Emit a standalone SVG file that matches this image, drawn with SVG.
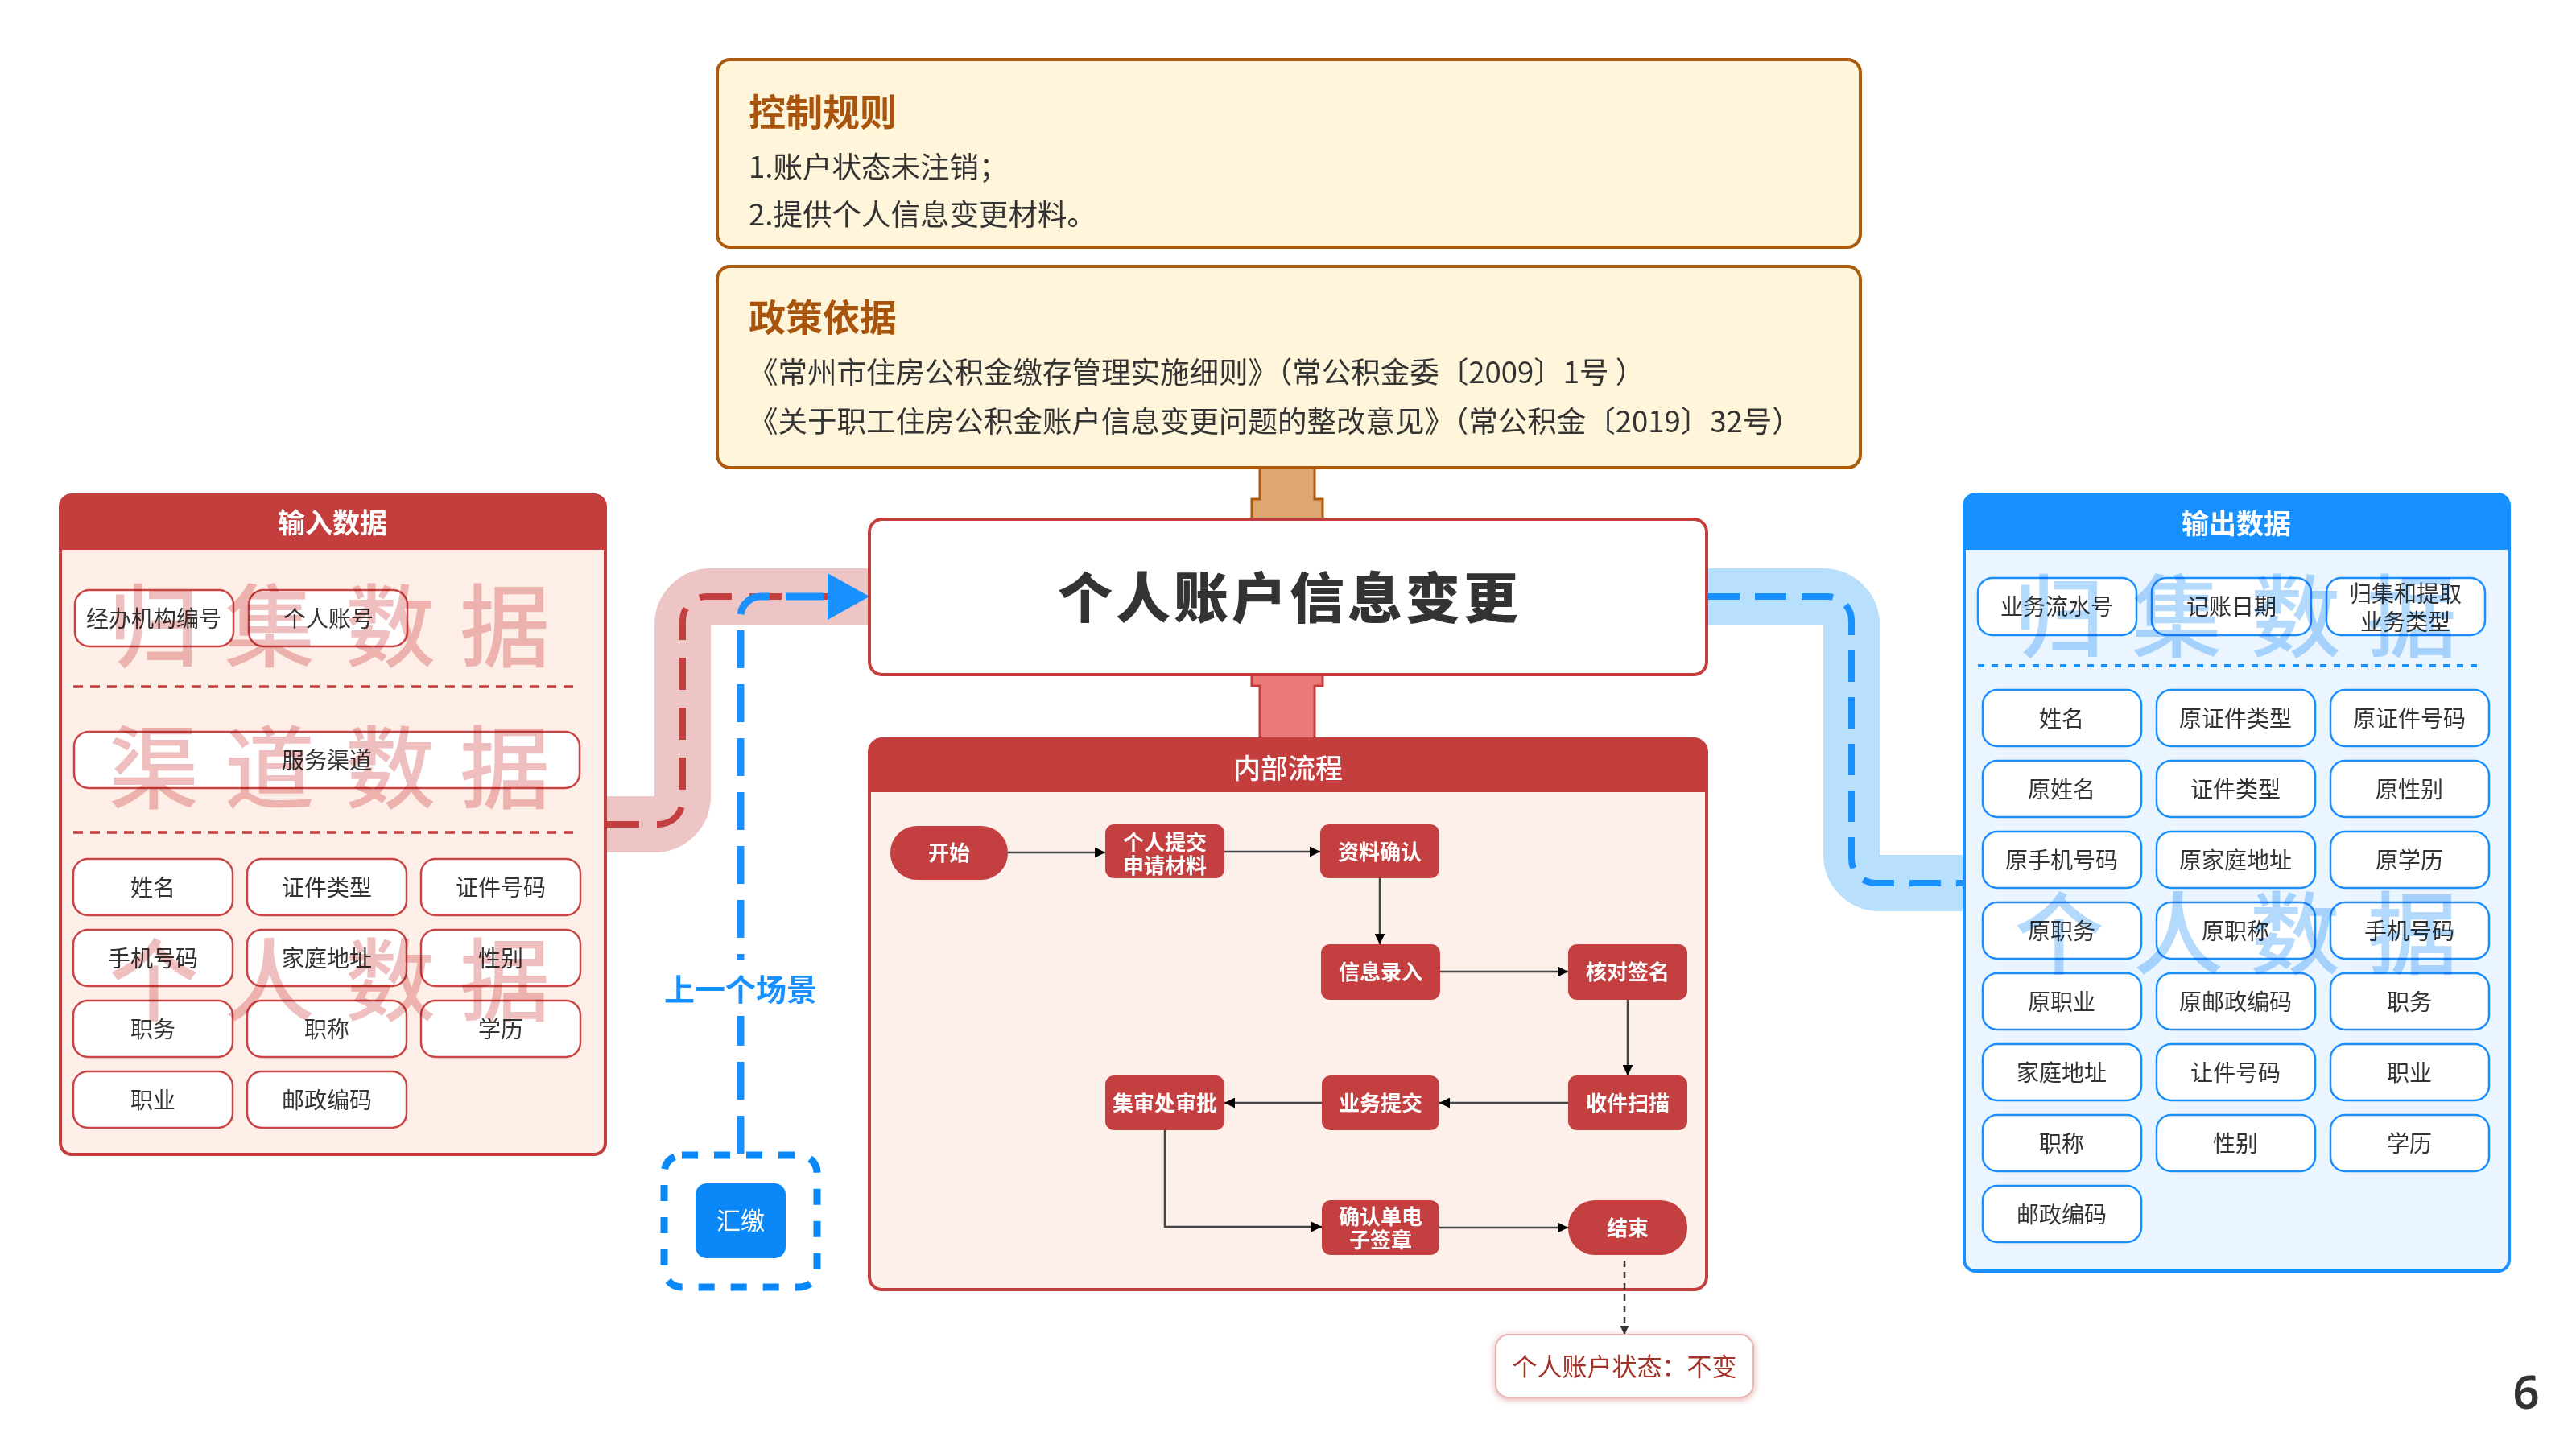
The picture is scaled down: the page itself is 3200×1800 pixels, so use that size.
<svg xmlns="http://www.w3.org/2000/svg" width="3200" height="1800" viewBox="0 0 3200 1800">
<defs>
<style>
text{font-family:"Noto Sans CJK SC","Noto Sans",sans-serif}
.cbox{fill:#fff5da;stroke:#ad5a0c;stroke-width:4}
.ctitle{font-size:46px;font-weight:700;fill:#a8540c}
.ctext{font-size:36.5px;fill:#333}
.ibox{fill:#fff;stroke:#c84545;stroke-width:2.5}
.obox{fill:#fff;stroke:#1a8ffb;stroke-width:2.5}
.itxt{font-size:28px;fill:#333;text-anchor:middle}
.htxt{font-size:34px;font-weight:700;fill:#fff;text-anchor:middle}
.fnode{fill:#c43f3f}
.ftxt{font-size:26px;font-weight:600;fill:#fff;text-anchor:middle}
.flow{fill:none;stroke:#444;stroke-width:2.5}
.wmr{font-size:112px;font-weight:500;fill:#efbfbf;text-anchor:middle;mix-blend-mode:multiply}
.wmb{font-size:112px;font-weight:500;fill:#b3dafd;text-anchor:middle;mix-blend-mode:multiply}
</style>
<marker id="ah" viewBox="0 0 10 10" refX="10" refY="5" markerUnits="userSpaceOnUse" markerWidth="14" markerHeight="13" orient="auto">
<path d="M0,0 L10,5 L0,10 z" fill="#000"/>
</marker>
<marker id="ahs" viewBox="0 0 10 10" refX="10" refY="5" markerUnits="userSpaceOnUse" markerWidth="11" markerHeight="11" orient="auto">
<path d="M0,0 L10,5 L0,10 z" fill="#333"/>
</marker>
<filter id="sh" x="-20%" y="-40%" width="140%" height="180%">
<feDropShadow dx="0" dy="2" stdDeviation="4" flood-color="#c44" flood-opacity="0.45"/>
</filter>
</defs>
<rect width="3200" height="1800" fill="#fff"/>

<g id="control-rules">
<rect class="cbox" x="891" y="74" width="1420" height="233" rx="16"/>
<text class="ctitle" x="930" y="156">控制规则</text>
<text class="ctext" x="930" y="221">1.账户状态未注销；</text>
<text class="ctext" x="930" y="280">2.提供个人信息变更材料。</text>
</g>

<g id="policy-basis">
<rect class="cbox" x="891" y="331" width="1420" height="250" rx="16"/>
<text class="ctitle" x="930" y="411">政策依据</text>
<text class="ctext" x="930" y="476">《常州市住房公积金缴存管理实施细则》（常公积金委〔2009〕1号 ）</text>
<text class="ctext" x="930" y="537">《关于职工住房公积金账户信息变更问题的整改意见》（常公积金〔2019〕32号）</text>
</g>

<g id="connectors">
<path d="M754 1024 H813 A35 35 0 0 0 848 989 V776 A35 35 0 0 1 883 741 H1078" fill="none" stroke="#edc5c5" stroke-width="70"/>
<path d="M754 1024 H818 A30 30 0 0 0 848 994 V771 A30 30 0 0 1 878 741 H1030" fill="none" stroke="#c43f3f" stroke-width="8" stroke-dasharray="40 22"/>
<path d="M2122 741 H2265 A35 35 0 0 1 2300 776 V1062 A35 35 0 0 0 2335 1097 H2438" fill="none" stroke="#b8dffb" stroke-width="70"/>
<path d="M2122 741 H2270 A30 30 0 0 1 2300 771 V1067 A30 30 0 0 0 2330 1097 H2438" fill="none" stroke="#1890ff" stroke-width="8" stroke-dasharray="39 19"/>
<path d="M920 1433 V766 A25 25 0 0 1 945 741 H1030" fill="none" stroke="#1890ff" stroke-width="9" stroke-dasharray="47 20"/>
<polygon points="1028,712 1080,741 1028,770" fill="#1890ff"/>
<path d="M1565 581 V620 H1555 V645 H1643 V620 H1633 V581 Z" fill="#dfa672" stroke="#ad5a0c" stroke-width="3"/>
<path d="M1555 838 V852 H1565 V919 H1633 V852 H1643 V838 Z" fill="#ec7a78" stroke="#c43e3e" stroke-width="3"/>
</g>

<g id="main-title">
<rect x="1080" y="645" width="1040" height="193" rx="16" fill="#fff" stroke="#c43e3e" stroke-width="4"/>
<text x="1602" y="768" font-size="68" font-weight="900" fill="#333" text-anchor="middle" letter-spacing="4">个人账户信息变更</text>
</g>

<g id="internal-process">
<rect x="1080" y="918" width="1040" height="684" rx="16" fill="#fdefe9" stroke="#c43e3e" stroke-width="4"/>
<path d="M1080 984 V934 Q1080 918 1096 918 H2104 Q2120 918 2120 934 V984 Z" fill="#c43e3e"/>
<text x="1600" y="967" font-size="34" font-weight="500" fill="#fff" text-anchor="middle">内部流程</text>
</g>

<g id="input-data">
<rect x="75" y="615" width="677" height="819" rx="14" fill="#fdeee8" stroke="#c43e3e" stroke-width="4"/>
<path d="M75 683 V629 Q75 615 89 615 H738 Q752 615 752 629 V683 Z" fill="#c43e3e"/>
<text class="htxt" x="413" y="662">输入数据</text>
<line x1="91" y1="853" x2="721" y2="853" stroke="#c43e3e" stroke-width="3.5" stroke-dasharray="12 9"/>
<line x1="91" y1="1034" x2="721" y2="1034" stroke="#c43e3e" stroke-width="3.5" stroke-dasharray="12 9"/>
</g>
<g id="in-jbjg"><rect class="ibox" x="93" y="733" width="197" height="70" rx="18"/><text class="itxt" x="191" y="779">经办机构编号</text></g>
<g id="in-grzh"><rect class="ibox" x="309" y="733" width="197" height="70" rx="18"/><text class="itxt" x="408" y="779">个人账号</text></g>
<g id="in-fwqd"><rect class="ibox" x="92" y="909" width="628" height="70" rx="18"/><text class="itxt" x="406" y="955">服务渠道</text></g>
<g id="in-xm"><rect class="ibox" x="91" y="1067" width="198" height="70" rx="18"/><text class="itxt" x="190" y="1113">姓名</text></g>
<g id="in-zjlx"><rect class="ibox" x="307" y="1067" width="198" height="70" rx="18"/><text class="itxt" x="406" y="1113">证件类型</text></g>
<g id="in-zjhm"><rect class="ibox" x="523" y="1067" width="198" height="70" rx="18"/><text class="itxt" x="622" y="1113">证件号码</text></g>
<g id="in-sjhm"><rect class="ibox" x="91" y="1155" width="198" height="70" rx="18"/><text class="itxt" x="190" y="1201">手机号码</text></g>
<g id="in-jtdz"><rect class="ibox" x="307" y="1155" width="198" height="70" rx="18"/><text class="itxt" x="406" y="1201">家庭地址</text></g>
<g id="in-xb"><rect class="ibox" x="523" y="1155" width="198" height="70" rx="18"/><text class="itxt" x="622" y="1201">性别</text></g>
<g id="in-zw"><rect class="ibox" x="91" y="1243" width="198" height="70" rx="18"/><text class="itxt" x="190" y="1289">职务</text></g>
<g id="in-zc"><rect class="ibox" x="307" y="1243" width="198" height="70" rx="18"/><text class="itxt" x="406" y="1289">职称</text></g>
<g id="in-xl"><rect class="ibox" x="523" y="1243" width="198" height="70" rx="18"/><text class="itxt" x="622" y="1289">学历</text></g>
<g id="in-zy"><rect class="ibox" x="91" y="1331" width="198" height="70" rx="18"/><text class="itxt" x="190" y="1377">职业</text></g>
<g id="in-yzbm"><rect class="ibox" x="307" y="1331" width="198" height="70" rx="18"/><text class="itxt" x="406" y="1377">邮政编码</text></g>
<g id="input-watermarks">
<text class="wmr" x="191 335 485 627" y="820">归集数据</text>
<text class="wmr" x="191 335 485 627" y="996">渠道数据</text>
<text class="wmr" x="191 335 485 627" y="1260">个人数据</text>
</g>

<g id="output-data">
<rect x="2440" y="614" width="677" height="965" rx="14" fill="#ebf5ff" stroke="#1890ff" stroke-width="4"/>
<path d="M2440 683 V628 Q2440 614 2454 614 H3103 Q3117 614 3117 628 V683 Z" fill="#1890ff"/>
<text class="htxt" x="2778" y="663">输出数据</text>
<line x1="2457" y1="827" x2="3085" y2="827" stroke="#1890ff" stroke-width="4" stroke-dasharray="8 9"/>
</g>
<g id="out-ywlsh"><rect class="obox" x="2457" y="718" width="197" height="71" rx="18"/><text class="itxt" x="2555" y="764">业务流水号</text></g>
<g id="out-jzrq"><rect class="obox" x="2673" y="718" width="198" height="71" rx="18"/><text class="itxt" x="2772" y="764">记账日期</text></g>
<g id="out-ywlx"><rect class="obox" x="2890" y="718" width="197" height="71" rx="18"/><text class="itxt" x="2988" y="748">归集和提取</text><text class="itxt" x="2988" y="783">业务类型</text></g>
<g id="out-r1c1"><rect class="obox" x="2463" y="857" width="197" height="70" rx="18"/><text class="itxt" x="2561" y="903">姓名</text></g>
<g id="out-r1c2"><rect class="obox" x="2679" y="857" width="197" height="70" rx="18"/><text class="itxt" x="2777" y="903">原证件类型</text></g>
<g id="out-r1c3"><rect class="obox" x="2895" y="857" width="197" height="70" rx="18"/><text class="itxt" x="2993" y="903">原证件号码</text></g>
<g id="out-r2c1"><rect class="obox" x="2463" y="945" width="197" height="70" rx="18"/><text class="itxt" x="2561" y="991">原姓名</text></g>
<g id="out-r2c2"><rect class="obox" x="2679" y="945" width="197" height="70" rx="18"/><text class="itxt" x="2777" y="991">证件类型</text></g>
<g id="out-r2c3"><rect class="obox" x="2895" y="945" width="197" height="70" rx="18"/><text class="itxt" x="2993" y="991">原性别</text></g>
<g id="out-r3c1"><rect class="obox" x="2463" y="1033" width="197" height="70" rx="18"/><text class="itxt" x="2561" y="1079">原手机号码</text></g>
<g id="out-r3c2"><rect class="obox" x="2679" y="1033" width="197" height="70" rx="18"/><text class="itxt" x="2777" y="1079">原家庭地址</text></g>
<g id="out-r3c3"><rect class="obox" x="2895" y="1033" width="197" height="70" rx="18"/><text class="itxt" x="2993" y="1079">原学历</text></g>
<g id="out-r4c1"><rect class="obox" x="2463" y="1121" width="197" height="70" rx="18"/><text class="itxt" x="2561" y="1167">原职务</text></g>
<g id="out-r4c2"><rect class="obox" x="2679" y="1121" width="197" height="70" rx="18"/><text class="itxt" x="2777" y="1167">原职称</text></g>
<g id="out-r4c3"><rect class="obox" x="2895" y="1121" width="197" height="70" rx="18"/><text class="itxt" x="2993" y="1167">手机号码</text></g>
<g id="out-r5c1"><rect class="obox" x="2463" y="1209" width="197" height="70" rx="18"/><text class="itxt" x="2561" y="1255">原职业</text></g>
<g id="out-r5c2"><rect class="obox" x="2679" y="1209" width="197" height="70" rx="18"/><text class="itxt" x="2777" y="1255">原邮政编码</text></g>
<g id="out-r5c3"><rect class="obox" x="2895" y="1209" width="197" height="70" rx="18"/><text class="itxt" x="2993" y="1255">职务</text></g>
<g id="out-r6c1"><rect class="obox" x="2463" y="1297" width="197" height="70" rx="18"/><text class="itxt" x="2561" y="1343">家庭地址</text></g>
<g id="out-r6c2"><rect class="obox" x="2679" y="1297" width="197" height="70" rx="18"/><text class="itxt" x="2777" y="1343">让件号码</text></g>
<g id="out-r6c3"><rect class="obox" x="2895" y="1297" width="197" height="70" rx="18"/><text class="itxt" x="2993" y="1343">职业</text></g>
<g id="out-r7c1"><rect class="obox" x="2463" y="1385" width="197" height="70" rx="18"/><text class="itxt" x="2561" y="1431">职称</text></g>
<g id="out-r7c2"><rect class="obox" x="2679" y="1385" width="197" height="70" rx="18"/><text class="itxt" x="2777" y="1431">性别</text></g>
<g id="out-r7c3"><rect class="obox" x="2895" y="1385" width="197" height="70" rx="18"/><text class="itxt" x="2993" y="1431">学历</text></g>
<g id="out-r8c1"><rect class="obox" x="2463" y="1473" width="197" height="70" rx="18"/><text class="itxt" x="2561" y="1519">邮政编码</text></g>
<g id="output-watermarks">
<text class="wmb" x="2558 2704 2852 2996" y="808">归集数据</text>
<text class="wmb" x="2558 2706 2851 2997" y="1202">个人数据</text>
</g>

<g id="prev-scene-label">
<rect x="880" y="1192" width="80" height="70" fill="#fff"/>
<text x="920" y="1243" font-size="38" font-weight="700" fill="#1890ff" text-anchor="middle">上一个场景</text>
</g>
<g id="prev-scene">
<rect x="825" y="1435" width="190" height="164" rx="22" fill="none" stroke="#0b88f8" stroke-width="9" stroke-dasharray="20 20"/>
<rect x="864" y="1470" width="112" height="93" rx="14" fill="#0b88f8"/>
<text x="920" y="1527" font-size="30" fill="#fff" text-anchor="middle">汇缴</text>
</g>

<g id="flow-connectors">
<path class="flow" d="M1252 1059 H1373" marker-end="url(#ah)"/>
<path class="flow" d="M1521 1058 H1640" marker-end="url(#ah)"/>
<path class="flow" d="M1714 1091 V1173" marker-end="url(#ah)"/>
<path class="flow" d="M1788 1207 H1948" marker-end="url(#ah)"/>
<path class="flow" d="M2022 1242 V1336" marker-end="url(#ah)"/>
<path class="flow" d="M1948 1370 H1788" marker-end="url(#ah)"/>
<path class="flow" d="M1642 1370 H1521" marker-end="url(#ah)"/>
<path class="flow" d="M1447 1404 V1524 H1642" marker-end="url(#ah)"/>
<path class="flow" d="M1788 1525 H1948" marker-end="url(#ah)"/>
<path d="M2018 1566 V1658" fill="none" stroke="#333" stroke-width="2.5" stroke-dasharray="8 6" marker-end="url(#ahs)"/>
</g>

<g id="f-start"><rect class="fnode" x="1106" y="1026" width="146" height="67" rx="33"/><text class="ftxt" x="1179" y="1069">开始</text></g>
<g id="f-submit"><rect class="fnode" x="1373" y="1024" width="148" height="67" rx="11"/><text class="ftxt" x="1447" y="1056">个人提交</text><text class="ftxt" x="1447" y="1085">申请材料</text></g>
<g id="f-confirm"><rect class="fnode" x="1640" y="1024" width="148" height="67" rx="11"/><text class="ftxt" x="1714" y="1068">资料确认</text></g>
<g id="f-entry"><rect class="fnode" x="1641" y="1173" width="148" height="69" rx="11"/><text class="ftxt" x="1715" y="1217">信息录入</text></g>
<g id="f-sign"><rect class="fnode" x="1948" y="1173" width="148" height="69" rx="11"/><text class="ftxt" x="2022" y="1217">核对签名</text></g>
<g id="f-scan"><rect class="fnode" x="1948" y="1336" width="148" height="68" rx="11"/><text class="ftxt" x="2022" y="1380">收件扫描</text></g>
<g id="f-biz"><rect class="fnode" x="1642" y="1336" width="146" height="68" rx="11"/><text class="ftxt" x="1715" y="1380">业务提交</text></g>
<g id="f-approve"><rect class="fnode" x="1373" y="1336" width="148" height="68" rx="11"/><text class="ftxt" x="1447" y="1380">集审处审批</text></g>
<g id="f-esign"><rect class="fnode" x="1642" y="1491" width="146" height="68" rx="11"/><text class="ftxt" x="1715" y="1521">确认单电</text><text class="ftxt" x="1715" y="1550">子签章</text></g>
<g id="f-end"><rect class="fnode" x="1948" y="1491" width="148" height="68" rx="33"/><text class="ftxt" x="2022" y="1535">结束</text></g>

<g id="status">
<rect x="1858" y="1658" width="320" height="78" rx="16" fill="#fff" stroke="#e8b4b4" stroke-width="2" filter="url(#sh)"/>
<text x="2018" y="1709" font-size="31" fill="#a33228" text-anchor="middle">个人账户状态：不变</text>
</g>

<g id="page-number">
<text x="3138" y="1750" font-size="58" font-weight="600" fill="#333" text-anchor="middle" style="font-family:'Noto Sans',sans-serif">6</text>
</g>
</svg>
